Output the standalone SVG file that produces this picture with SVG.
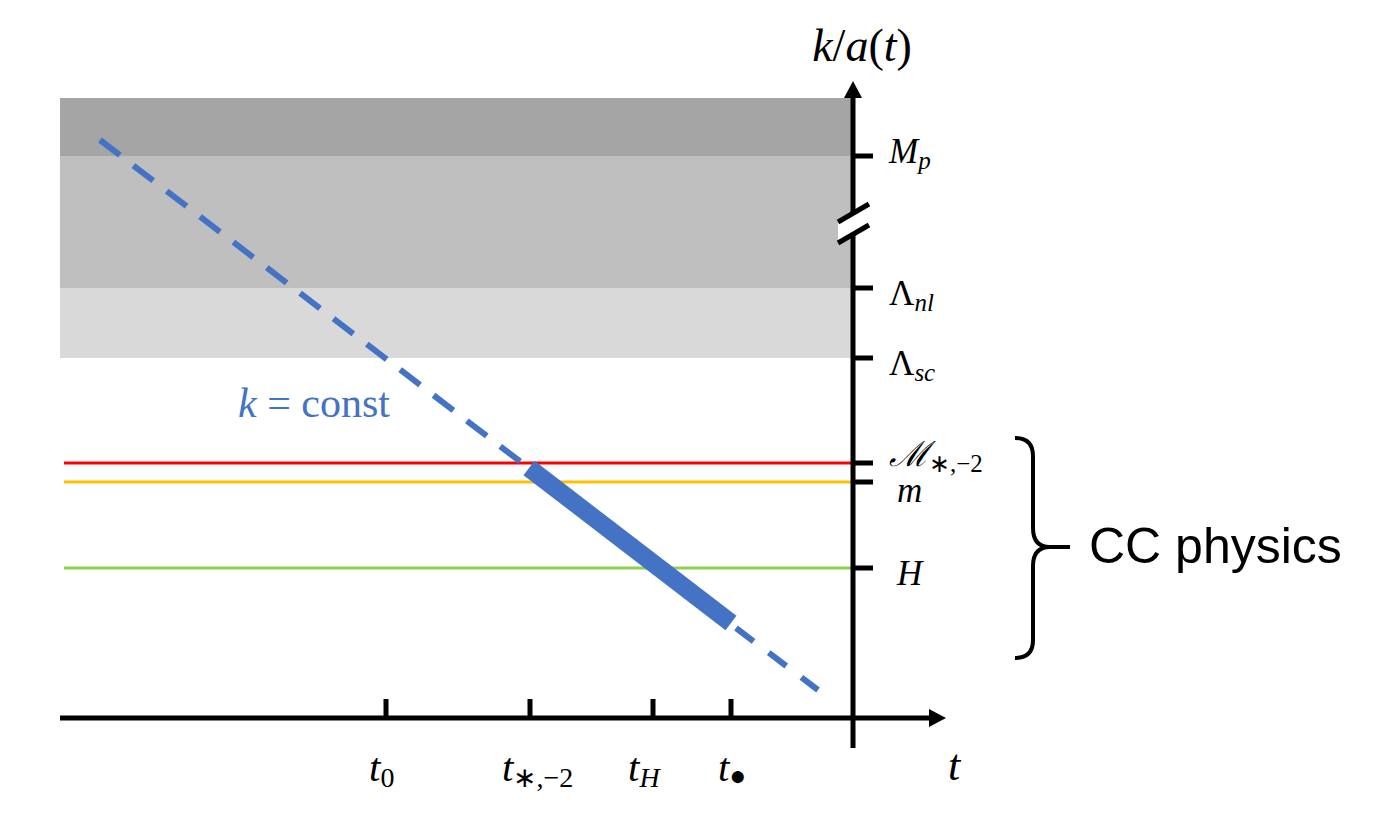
<svg xmlns="http://www.w3.org/2000/svg" width="1399" height="814" viewBox="0 0 1399 814">
<style>
.ax{stroke:#000;stroke-width:5;fill:none}
.tk{stroke:#000;stroke-width:5}
.m{font-family:"Liberation Serif","Times New Roman",serif;font-style:italic;fill:#000}
.rl{font-size:35px}
.sub{font-size:25px}
.bl{font-size:41px}
.bs{font-size:28px}
.up{font-style:normal}
</style>
<rect width="1399" height="814" fill="#fff"/>
<g id="bands">
<rect x="60" y="98" width="793" height="58" fill="#a5a5a5"/>
<rect x="60" y="156" width="793" height="132" fill="#bfbfbf"/>
<rect x="60" y="288" width="793" height="70" fill="#d9d9d9"/>
</g>
<g id="levels">
<line x1="64" y1="463" x2="853" y2="463" stroke="#ff0000" stroke-width="3"/>
<line x1="64" y1="482" x2="853" y2="482" stroke="#ffc000" stroke-width="3"/>
<line x1="64" y1="568" x2="853" y2="568" stroke="#92d050" stroke-width="3"/>
</g>
<g id="connectors">
<line x1="100" y1="140" x2="526" y2="466" stroke="#4472c4" stroke-width="6" stroke-dasharray="25 17"/>
<line x1="529" y1="468" x2="731" y2="623" stroke="#4472c4" stroke-width="18"/>
<line x1="736" y1="628" x2="818" y2="690" stroke="#4472c4" stroke-width="6" stroke-dasharray="22 19"/>
</g>
<g id="axes">
<line class="ax" x1="853" y1="96" x2="853" y2="748"/>
<polygon points="853,81 844,98 862,98" fill="#000"/>
<line class="ax" x1="60" y1="718" x2="930" y2="718"/>
<polygon points="946,718 929,709 929,727" fill="#000"/>
<polygon points="838,222 869,204 869,225 838,243" fill="#fff"/>
<rect x="850" y="214" width="6" height="18" fill="#fff"/>
<line class="tk" x1="838" y1="222" x2="869" y2="204"/>
<line class="tk" x1="838" y1="243" x2="869" y2="225"/>
<line class="tk" x1="853" y1="156" x2="873" y2="156"/>
<line class="tk" x1="853" y1="288" x2="873" y2="288"/>
<line class="tk" x1="853" y1="358" x2="873" y2="358"/>
<line class="tk" x1="853" y1="463" x2="873" y2="463"/>
<line class="tk" x1="853" y1="482" x2="873" y2="482"/>
<line class="tk" x1="853" y1="568" x2="873" y2="568"/>
<line class="tk" x1="386" y1="699" x2="386" y2="718"/>
<line class="tk" x1="530" y1="699" x2="530" y2="718"/>
<line class="tk" x1="653" y1="699" x2="653" y2="718"/>
<line class="tk" x1="731" y1="699" x2="731" y2="718"/>
</g>
<g id="axis-labels">
<text class="m" x="862" y="61" font-size="46" text-anchor="middle">k<tspan class="up">/</tspan>a<tspan class="up">(</tspan>t<tspan class="up">)</tspan></text>
<text class="m" x="948" y="780" font-size="44">t</text>
</g>
<g id="tick-labels">
<text class="m bl" x="369" y="781">t<tspan class="up bs" dy="6">0</tspan></text>
<text class="m bl" x="502" y="781">t<tspan class="up bs" dy="6">∗,−2</tspan></text>
<text class="m bl" x="628" y="781">t<tspan class="bs" dy="6">H</tspan></text>
<text class="m bl" x="718" y="781">t<tspan class="up bs" dy="4">●</tspan></text>
</g>
<g id="level-labels">
<text class="m rl" x="889" y="163">M<tspan class="sub" dy="6">p</tspan></text>
<text class="m rl" x="889" y="305"><tspan class="up">Λ</tspan><tspan class="sub" dy="6">nl</tspan></text>
<text class="m rl" x="889" y="375"><tspan class="up">Λ</tspan><tspan class="sub" dy="6">sc</tspan></text>
<text class="m rl" x="889" y="466">ℳ<tspan class="up sub" dy="6">∗,−2</tspan></text>
<text class="m rl" x="897" y="502">m</text>
<text class="m rl" x="897" y="585">H</text>
</g>
<g id="k-label">
<text x="238" y="417" font-family="Liberation Serif, serif" font-size="42" fill="#4472c4"><tspan font-style="italic">k</tspan> = const</text>
</g>
<g id="brace">
<path d="M1015,438 Q1033,438 1033,456 L1033,528 Q1033,547 1050,547 L1070,547 M1050,547 Q1033,547 1033,566 L1033,640 Q1033,658 1015,658" fill="none" stroke="#000" stroke-width="4"/>
<text x="1089" y="563" font-family="Liberation Sans, Arial, sans-serif" font-size="50" fill="#000">CC physics</text>
</g>
</svg>
